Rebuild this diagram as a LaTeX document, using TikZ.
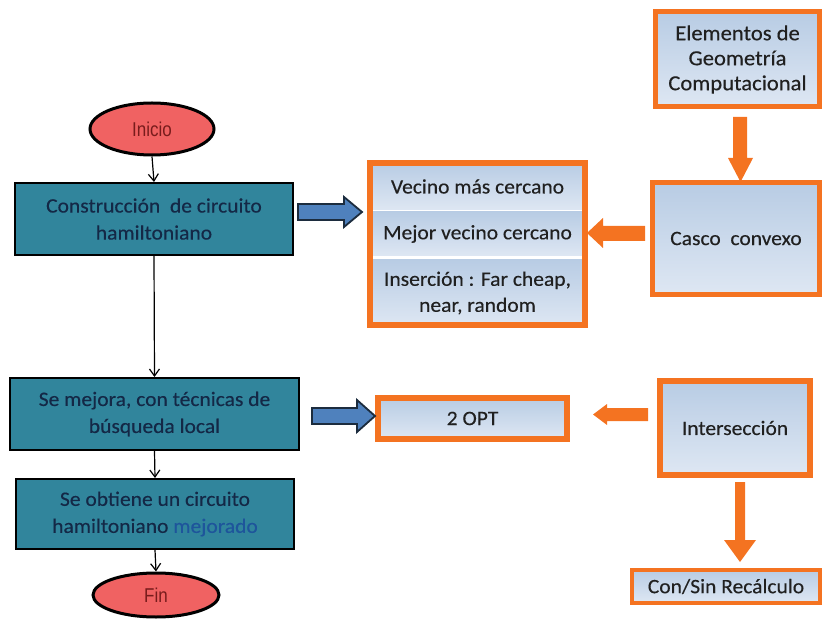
\documentclass[tikz,border=0pt]{standalone}
\usepackage{fontspec}
\setmainfont[FakeStretch=1.05,FakeBold=0.3]{Carlito}
\newfontfamily\narrowsans[FakeStretch=0.85]{Liberation Sans}
\usetikzlibrary{shapes.geometric,calc,arrows.meta}

\definecolor{tealfill}{RGB}{49,133,156}
\definecolor{tealtext}{RGB}{20,40,70}
\definecolor{mejblue}{RGB}{30,85,155}
\definecolor{ovalfill}{RGB}{240,98,98}
\definecolor{ovaltext}{RGB}{120,28,28}
\definecolor{orframe}{RGB}{244,115,33}
\definecolor{paletop}{RGB}{184,204,228}
\definecolor{palebot}{RGB}{222,231,243}
\definecolor{paletext}{RGB}{32,32,32}
\definecolor{arrblue}{RGB}{79,129,189}
\definecolor{arrdark}{RGB}{28,44,62}

\tikzset{
  tealbox/.style={draw=black, line width=2pt, fill=tealfill, text=tealtext,
    align=center, inner sep=1pt, font=\fontsize{20.5}{27}\selectfont},
  oval/.style={ellipse, draw=black, line width=3pt, fill=ovalfill, text=ovaltext,
    inner sep=0pt, font=\narrowsans\fontsize{20}{24}\selectfont},
  palebox/.style={draw=orframe, top color=paletop, bottom color=palebot,
    text=paletext, align=center, inner sep=1pt, font=\fontsize{20.5}{26}\selectfont},
  rowbox/.style={top color=paletop, bottom color=palebot, text=paletext,
    align=center, inner sep=1pt, font=\fontsize{20.5}{26}\selectfont},
  flow/.style={-{Straight Barb[length=7pt,width=10pt]}, line width=1.2pt, draw=black},
  bluearr/.style={fill=arrblue, draw=arrdark, line width=1.8pt, line join=miter},
  orarr/.style={fill=orframe}
}

\begin{document}
\begin{tikzpicture}[x=1pt,y=-1pt]
\useasboundingbox (0,0) rectangle (825,628);

% main flow
\node[oval, minimum width=124pt, minimum height=52pt] (inicio) at (152,129) {Inicio};
\node[tealbox, minimum width=278pt, minimum height=72pt] (b1) at (154,219)
  {Construcción \ de circuito\\hamiltoniano};
\node[tealbox, minimum width=289pt, minimum height=72pt] (b2) at (154.5,414)
  {Se mejora, con técnicas de\\búsqueda local};
\node[tealbox, minimum width=278pt, minimum height=70pt] (b3) at (155,514)
  {Se obtiene un circuito\\hamiltoniano {\color{mejblue}mejorado}};
\node[oval, minimum width=126pt, minimum height=44pt] (fin) at (156,595) {Fin};

\draw[flow] (inicio.south) -- (b1.north);
\draw[flow] (b1.south) -- (b2.north);
\draw[flow] (b2.south) -- (b3.north);
\draw[flow] (b3.south) -- (fin.north);

% list of construction heuristics
\node[rowbox, minimum width=215pt, minimum height=47pt] (r1) at (477.5,186.5)
  {Vecino más cercano};
\node[rowbox, minimum width=215pt, minimum height=44pt] (r2) at (477.5,234)
  {Mejor vecino cercano};
\node[rowbox, minimum width=215pt, minimum height=67pt] (r3) at (477.5,293)
  {Inserción : Far cheap,\\near, random};
\node[draw=orframe, line width=6pt, minimum width=215pt, minimum height=162pt]
  (lista) at (477.5,244) {};

% right column
\node[palebox, line width=5pt, minimum width=164pt, minimum height=95pt,
  font=\fontsize{21.5}{25}\selectfont] (elem) at (737.5,59.5)
  {Elementos de\\Geometría\\Computacional};
\node[palebox, line width=5pt, minimum width=167pt, minimum height=112pt]
  (casco) at (736,238.5) {Casco \ convexo};
\node[palebox, line width=6pt, minimum width=189pt, minimum height=41pt]
  (opt) at (472.5,418.5) {2 OPT};
\node[palebox, line width=6pt, minimum width=150pt, minimum height=94pt]
  (inter) at (735,428) {Intersección};
\node[palebox, line width=4pt, minimum width=188pt, minimum height=33pt]
  (con) at (726,586.5) {Con/Sin Recálculo};

% block arrows
\draw[bluearr] ($(b1.east)+(4,-15)$) -- ++(46,0) -- ++(0,-7) -- ++(18,15)
  -- ++(-18,15) -- ++(0,-7) -- ++(-46,0) -- cycle;
\draw[bluearr] ($(b2.east)+(12,-6)$) -- ++(45,0) -- ++(0,-8) -- ++(18,16)
  -- ++(-18,16) -- ++(0,-8) -- ++(-45,0) -- cycle;
\fill[orarr] ($(casco.west)+(-5,-12.5)$) -- ++(-42,0) -- ++(0,-8) -- ++(-16,15)
  -- ++(16,15) -- ++(0,-7) -- ++(42,0) -- cycle;
\fill[orarr] ($(inter.west)+(-9,-20)$) -- ++(-41,0) -- ++(0,-4) -- ++(-14,10.5)
  -- ++(14,10.5) -- ++(0,-4) -- ++(41,0) -- cycle;
\fill[orarr] ($(elem.south)+(-4.5,7.5)$) -- ++(14,0) -- ++(0,41) -- ++(6,0)
  -- ++(-12.5,24) -- ++(-12.5,-24) -- ++(5,0) -- cycle;
\fill[orarr] ($(inter.south)+(0,4)$) -- ++(10,0) -- ++(0,58) -- ++(11,0)
  -- ++(-16,22) -- ++(-16,-22) -- ++(11,0) -- cycle;
\end{tikzpicture}
\end{document}
